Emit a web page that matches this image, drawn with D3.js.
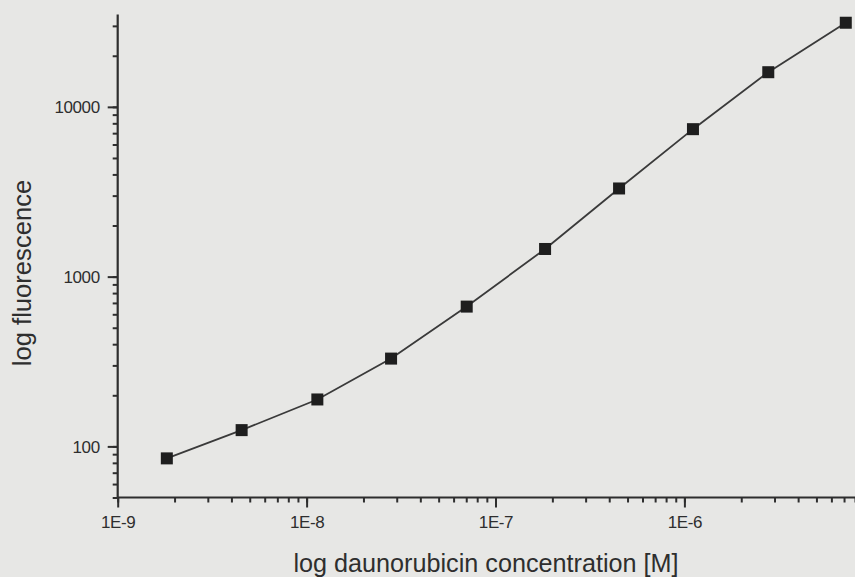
<!DOCTYPE html>
<html>
<head>
<meta charset="utf-8">
<script src="https://cdn.jsdelivr.net/npm/d3@7"></script>
<style>
  html, body { margin: 0; padding: 0; background: #e7e7e5; }
  svg { display: block; }
  text { font-family: "Liberation Sans", Arial, Helvetica, sans-serif; fill: #2e2e2e; }
</style>
</head>
<body>
<script>
// Daunorubicin concentration (M) and measured fluorescence
const concentrations = [1.82e-9, 4.53e-9, 1.14e-8, 2.80e-8, 7.04e-8, 1.83e-7, 4.51e-7, 1.11e-6, 2.78e-6, 7.15e-6];
const fluorescence   = [85, 124.7, 189, 329, 666, 1455, 3306, 7390, 16000, 31300];

const xMajorTicks = [1e-9, 1e-8, 1e-7, 1e-6];
const xTickLabels = ["1E-9", "1E-8", "1E-7", "1E-6"];
const yMajorTicks = [100, 1000, 10000];
const yTickLabels = ["100", "1000", "10000"];

const xTitle = "log daunorubicin concentration [M]";
const yTitle = "log fluorescence";

const W = 855, H = 577;
const ink = "#2e2e2e";

const svg = d3.select("body").append("svg")
  .attr("width", W).attr("height", H);

const x = d3.scaleLog().domain([1e-9, 1e-5]).range([117.7, 873.3]);
const y = d3.scaleLog().domain([50, 35000]).range([497.5, 14.5]);

const x0 = x.range()[0];
const yBase = y.range()[0];

// Minor ticks (every 1..9 per decade) on both axes
const xAxisMinor = d3.axisBottom(x).tickValues(x.ticks()).tickSize(5).tickFormat("");
const yAxisMinor = d3.axisLeft(y).tickValues(y.ticks()).tickSize(5).tickFormat("");

svg.append("g").attr("transform", `translate(0,${yBase})`).call(xAxisMinor)
  .call(g => g.select(".domain").remove());
svg.append("g").attr("transform", `translate(${x0},0)`).call(yAxisMinor)
  .call(g => g.select(".domain").remove());

// Major ticks with labels
const xAxis = d3.axisBottom(x).tickValues(xMajorTicks).tickSize(10).tickPadding(8)
  .tickFormat((d, i) => xTickLabels[i]);
const yAxis = d3.axisLeft(y).tickValues(yMajorTicks).tickSize(10).tickPadding(8)
  .tickFormat((d, i) => yTickLabels[i]);

const gx = svg.append("g").attr("transform", `translate(0,${yBase})`).call(xAxis);
const gy = svg.append("g").attr("transform", `translate(${x0},0)`).call(yAxis);
[gx, gy].forEach(g => {
  g.select(".domain").remove();
  g.selectAll("text").attr("font-size", 17).attr("letter-spacing", -0.4)
    .style("fill", ink).attr("font-family", "Liberation Sans, Arial, sans-serif");
});
gy.selectAll(".tick text").attr("dy", "0.35em");

svg.selectAll(".tick line").attr("stroke", ink).attr("stroke-width", 2);

// Axis lines
svg.append("line")
  .attr("x1", x0).attr("x2", W)
  .attr("y1", yBase).attr("y2", yBase)
  .attr("stroke", ink).attr("stroke-width", 2.2);
svg.append("line")
  .attr("x1", x0).attr("x2", x0)
  .attr("y1", y.range()[1]).attr("y2", yBase)
  .attr("stroke", ink).attr("stroke-width", 2.2);

// Data line and square markers
const pts = concentrations.map((c, i) => [c, fluorescence[i]]);
svg.append("path")
  .datum(pts)
  .attr("fill", "none")
  .attr("stroke", "#3a3a3a")
  .attr("stroke-width", 1.8)
  .attr("d", d3.line().x(d => x(d[0])).y(d => y(d[1])));

const s = 12;
svg.append("g").selectAll("rect").data(pts).join("rect")
  .attr("x", d => x(d[0]) - s / 2)
  .attr("y", d => y(d[1]) - s / 2)
  .attr("width", s).attr("height", s)
  .attr("fill", "#1e1e1e");

// Axis titles
svg.append("text")
  .attr("x", 486).attr("y", 572)
  .attr("text-anchor", "middle")
  .attr("font-size", 25.2)
  .text(xTitle);

svg.append("text")
  .attr("transform", "translate(31,273) rotate(-90)")
  .attr("text-anchor", "middle")
  .attr("font-size", 25.6)
  .text(yTitle);
</script>
</body>
</html>
